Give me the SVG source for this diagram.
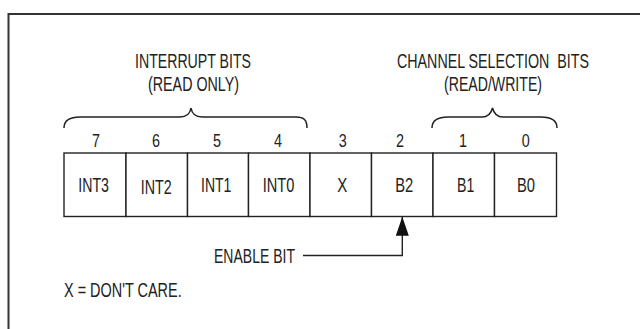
<svg xmlns="http://www.w3.org/2000/svg" width="640" height="329" viewBox="0 0 640 329">
<defs>
<style>
text{font-family:"Liberation Sans",Arial,sans-serif;font-size:20px;fill:#222;}
.lbl{font-size:21px;}
.dig{font-size:18.5px;}
.box{fill:#fff;stroke:#222;stroke-width:1.4;}
.brace{fill:none;stroke:#222;stroke-width:1.5;}
.frame{fill:none;stroke:#333;stroke-width:2;}
.conn{fill:none;stroke:#222;stroke-width:1.4;}
</style>
<marker id="arr" markerUnits="userSpaceOnUse" markerWidth="20" markerHeight="14" refX="0" refY="0" orient="auto" overflow="visible">
<path d="M-19,-6.5 L0,0 L-19,6.5 Z" fill="#111"/>
</marker>
</defs>
<rect width="640" height="329" fill="#fff"/>
<path class="frame" d="M8.5,329 L8.5,14 L640,14"/>

<g id="header-interrupt">
<text x="135" y="68" textLength="116" lengthAdjust="spacingAndGlyphs">INTERRUPT BITS</text>
<text x="148" y="90.5" textLength="91" lengthAdjust="spacingAndGlyphs">(READ ONLY)</text>
<path class="brace" d="M64,128 C64,120 70,117 80,117 L180,117 C186,117 190,114 191,108 C192,114 196,117 202,117 L296,117 C304,117 307,120 307,128"/>
</g>
<g id="header-channel">
<text transform="translate(397,68) scale(0.711,1)" x="0" y="0" textLength="270" lengthAdjust="spacingAndGlyphs" xml:space="preserve">CHANNEL SELECTION  BITS</text>
<text x="444" y="90.5" textLength="98" lengthAdjust="spacingAndGlyphs">(READ/WRITE)</text>
<path class="brace" d="M432,128 C432,120 438,117 448,117 L482,117 C488,117 491,114 492.5,108 C494,114 497,117 503,117 L541,117 C551,117 557,120 557,128"/>
</g>

<g id="bit7"><rect class="box" x="64" y="153" width="62" height="63.5"/><text class="dig" x="92" y="147" textLength="8" lengthAdjust="spacingAndGlyphs">7</text><text class="lbl" x="78.3" y="192.3" textLength="30.7" lengthAdjust="spacingAndGlyphs">INT3</text></g>
<g id="bit6"><rect class="box" x="126" y="153" width="61.5" height="63.5"/><text class="dig" x="152" y="147" textLength="8" lengthAdjust="spacingAndGlyphs">6</text><text class="lbl" x="140.7" y="194.3" textLength="31" lengthAdjust="spacingAndGlyphs">INT2</text></g>
<g id="bit5"><rect class="box" x="187.5" y="153" width="61" height="63.5"/><text class="dig" x="213" y="147" textLength="8" lengthAdjust="spacingAndGlyphs">5</text><text class="lbl" x="201" y="192.3" textLength="30.3" lengthAdjust="spacingAndGlyphs">INT1</text></g>
<g id="bit4"><rect class="box" x="248.5" y="153" width="61.5" height="63.5"/><text class="dig" x="274" y="147" textLength="8" lengthAdjust="spacingAndGlyphs">4</text><text class="lbl" x="262.7" y="192.3" textLength="31.6" lengthAdjust="spacingAndGlyphs">INT0</text></g>
<g id="bit3"><rect class="box" x="310" y="153" width="61.5" height="63.5"/><text class="dig" x="338.7" y="147" textLength="8" lengthAdjust="spacingAndGlyphs">3</text><text class="lbl" x="337.3" y="192.3" textLength="10" lengthAdjust="spacingAndGlyphs">X</text></g>
<g id="bit2"><rect class="box" x="371.5" y="153" width="61.5" height="63.5"/><text class="dig" x="396" y="147" textLength="8" lengthAdjust="spacingAndGlyphs">2</text><text class="lbl" x="395.3" y="192.3" textLength="18" lengthAdjust="spacingAndGlyphs">B2</text></g>
<g id="bit1"><rect class="box" x="433" y="153" width="61.5" height="63.5"/><text class="dig" x="459" y="147" textLength="8" lengthAdjust="spacingAndGlyphs">1</text><text class="lbl" x="457" y="192.3" textLength="17.3" lengthAdjust="spacingAndGlyphs">B1</text></g>
<g id="bit0"><rect class="box" x="494.5" y="153" width="62" height="63.5"/><text class="dig" x="521.7" y="147" textLength="8" lengthAdjust="spacingAndGlyphs">0</text><text class="lbl" x="517" y="192.3" textLength="18" lengthAdjust="spacingAndGlyphs">B0</text></g>

<g id="enable-label"><text x="214" y="263" textLength="81" lengthAdjust="spacingAndGlyphs">ENABLE BIT</text></g>
<g id="note"><text x="64" y="296.5" textLength="117.7" lengthAdjust="spacingAndGlyphs">X = DON'T CARE.</text></g>

<g id="connectors">
<path class="conn" d="M303,255.5 L402.3,255.5 L402.3,216.7" marker-end="url(#arr)"/>
</g>
</svg>
